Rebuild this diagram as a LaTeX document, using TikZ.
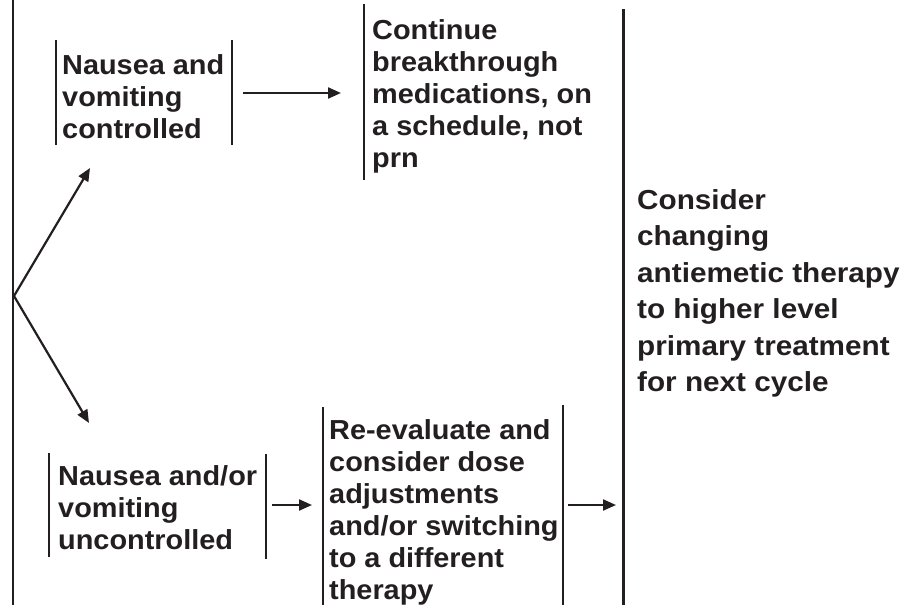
\documentclass[tikz,border=0pt]{standalone}
\usepackage{fontspec}
\setmainfont{Liberation Sans}[FakeStretch=1.05]
\usetikzlibrary{arrows.meta}
\definecolor{ink}{RGB}{35,31,32}
\tikzset{
  bar/.style={draw=ink, line width=2.4pt},
  conn/.style={draw=ink, line width=2.2pt, -{Triangle[length=13pt,width=11pt]}},
  txt/.style={anchor=base west, inner sep=0pt, text=ink, font=\bfseries\fontsize{27.5pt}{32pt}\selectfont},
  txtwide/.style={txt, font=\bfseries\fontsize{27.5pt}{36.5pt}\selectfont\addfontfeatures{FakeStretch=1.08}}
}
\begin{document}
\begin{tikzpicture}[x=1pt,y=-1pt]
\useasboundingbox (0,0) rectangle (907,605);
% left spine and fork
\coordinate (spineT) at (13,0);
\coordinate (spineB) at (13,605);
\draw[bar, line width=2.6pt] (spineT) -- (spineB);
\coordinate (fork) at (14,296);
% box 1
\node[txt] (t1) at (62,74) {\begin{tabular}[t]{@{}l@{}}Nausea and\\vomiting\\controlled\end{tabular}};
\coordinate (b1lT) at (56,40); \coordinate (b1lB) at (56,145);
\coordinate (b1rT) at (232,40); \coordinate (b1rB) at (232,145);
\draw[bar] (b1lT) -- (b1lB);
\draw[bar] (b1rT) -- (b1rB);
\coordinate (up) at (90,168);
% box 2
\node[txt] (t2) at (372,39) {\begin{tabular}[t]{@{}l@{}}Continue\\breakthrough\\medications, on\\a schedule, not\\prn\end{tabular}};
\coordinate (b2lT) at (364,4); \coordinate (b2lB) at (364,180);
\draw[bar] (b2lT) -- (b2lB);
% big right bar and text
\coordinate (bigT) at (623.5,9); \coordinate (bigB) at (623.5,605);
\draw[bar] (bigT) -- (bigB);
\node[txtwide] (t5) at (637,209) {\begin{tabular}[t]{@{}l@{}}Consider\\changing\\antiemetic therapy\\to higher level\\primary treatment\\for next cycle\end{tabular}};
% box 3
\node[txt] (t3) at (58,485) {\begin{tabular}[t]{@{}l@{}}Nausea and/or\\vomiting\\uncontrolled\end{tabular}};
\coordinate (b3lT) at (49,453); \coordinate (b3lB) at (49,557);
\coordinate (b3rT) at (266,454); \coordinate (b3rB) at (266,559);
\draw[bar] (b3lT) -- (b3lB);
\draw[bar] (b3rT) -- (b3rB);
\coordinate (down) at (89,423);
% box 4
\node[txt] (t4) at (329,439) {\begin{tabular}[t]{@{}l@{}}Re-evaluate and\\consider dose\\adjustments\\and/or switching\\to a different\\therapy\end{tabular}};
\coordinate (b4lT) at (323,407); \coordinate (b4lB) at (323,605);
\coordinate (b4rT) at (563,405); \coordinate (b4rB) at (563,605);
\draw[bar] (b4lT) -- (b4lB);
\draw[bar] (b4rT) -- (b4rB);
% connectors
\coordinate (a1s) at (243,93); \coordinate (a1e) at (341,93);
\coordinate (a3s) at (272,505); \coordinate (a3e) at (312,505);
\coordinate (a4s) at (568,505); \coordinate (a4e) at (616,505);
\draw[conn] (fork) -- (up);
\draw[conn] (fork) -- (down);
\draw[conn] (a1s) -- (a1e);
\draw[conn] (a3s) -- (a3e);
\draw[conn] (a4s) -- (a4e);
\end{tikzpicture}
\end{document}
